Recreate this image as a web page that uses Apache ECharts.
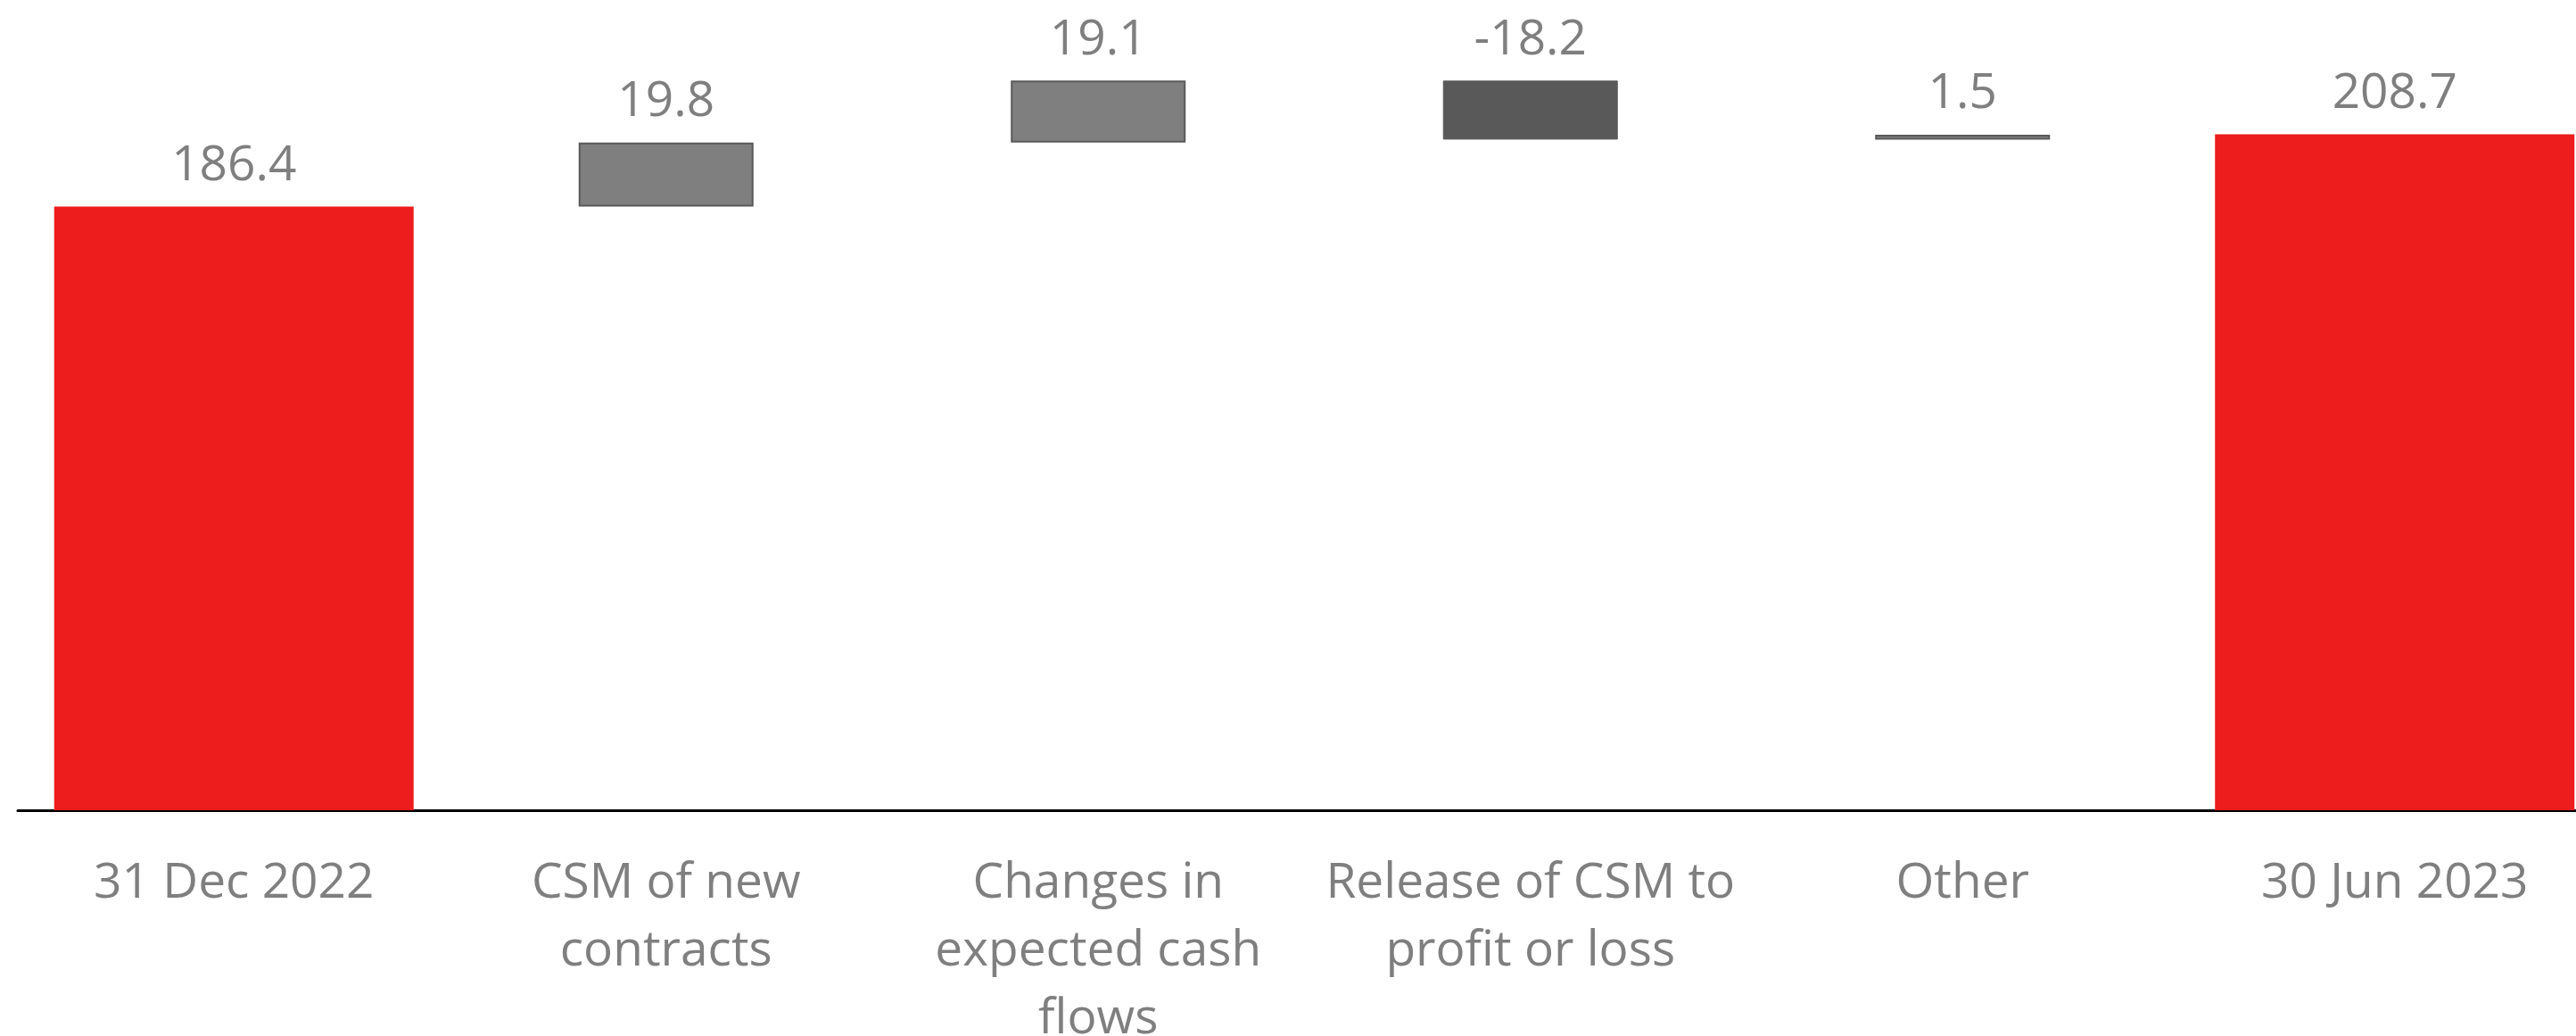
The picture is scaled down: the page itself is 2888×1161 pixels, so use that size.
<!DOCTYPE html>
<html>
<head>
<meta charset="utf-8">
<script src="https://cdn.jsdelivr.net/npm/echarts@6/dist/echarts.min.js"></script>
<style>
  html, body { margin: 0; padding: 0; background: #fff; }
  #chart { width: 2888px; height: 1161px; }
</style>
</head>
<body>
<div id="chart"></div>
<script>
// CSM movement, 31 Dec 2022 -> 30 Jun 2023
const categories = ['31 Dec 2022', 'CSM of new\ncontracts', 'Changes in\nexpected cash\nflows', 'Release of CSM to\nprofit or loss', 'Other', '30 Jun 2023'];
const openingCsm = 186.4;
const movements = [19.8, 19.1, -18.2, 1.5];
const closingCsm = 208.7;

const red = '#ED1C1D';
const grey = '#7F7F7F';
const darkGrey = '#595959';
const labelColor = '#7F7F7F';
const font = 'Open Sans';

// build the waterfall pieces from the movements
let totals = [openingCsm, '-', '-', '-', '-', closingCsm];
let base = ['-'];
let steps = ['-'];
let running = openingCsm;
movements.forEach(d => {
  if (d >= 0) {
    base.push(+running.toFixed(1));
    steps.push({ value: d, itemStyle: { color: grey, borderColor: darkGrey, borderWidth: 2 } });
  } else {
    base.push(+(running + d).toFixed(1));
    steps.push({ value: -d, itemStyle: { color: darkGrey, borderColor: darkGrey, borderWidth: 1 } });
  }
  running += d;
});
base.push('-');
steps.push('-');

let myChart = echarts.init(document.getElementById('chart'));
let option = {
  animation: false,
  grid: {
    top: 37,
    left: 20,
    right: -39,
    bottom: 253,
    containLabel: false,
    outerBoundsMode: 'none'
  },
  xAxis: [
    {
      type: 'category',
      data: categories,
      axisTick: { show: false },
      axisLine: { lineStyle: { color: '#000', width: 3 } },
      axisLabel: {
        interval: 0,
        margin: 44,
        color: labelColor,
        fontFamily: font,
        fontSize: 55,
        lineHeight: 76
      }
    },
    {
      type: 'category',
      data: categories,
      show: false
    }
  ],
  yAxis: {
    type: 'value',
    min: 0,
    max: 240,
    show: false,
    splitLine: { show: false }
  },
  series: [
    {
      name: 'total',
      type: 'bar',
      xAxisIndex: 0,
      barWidth: 403,
      data: totals,
      itemStyle: { color: red },
      label: {
        show: true,
        position: 'top',
        distance: 18,
        color: labelColor,
        fontFamily: font,
        fontSize: 55,
        formatter: p => p.value.toFixed(1)
      }
    },
    {
      name: 'base',
      type: 'bar',
      xAxisIndex: 1,
      stack: 'wf',
      barWidth: 196,
      data: base,
      itemStyle: { color: 'transparent' },
      silent: true
    },
    {
      name: 'movement',
      type: 'bar',
      xAxisIndex: 1,
      stack: 'wf',
      barWidth: 196,
      data: steps,
      label: {
        show: true,
        position: 'top',
        distance: 18,
        color: labelColor,
        fontFamily: font,
        fontSize: 55,
        formatter: p => movements[p.dataIndex - 1].toFixed(1)
      }
    }
  ]
};
myChart.setOption(option);
</script>
</body>
</html>
